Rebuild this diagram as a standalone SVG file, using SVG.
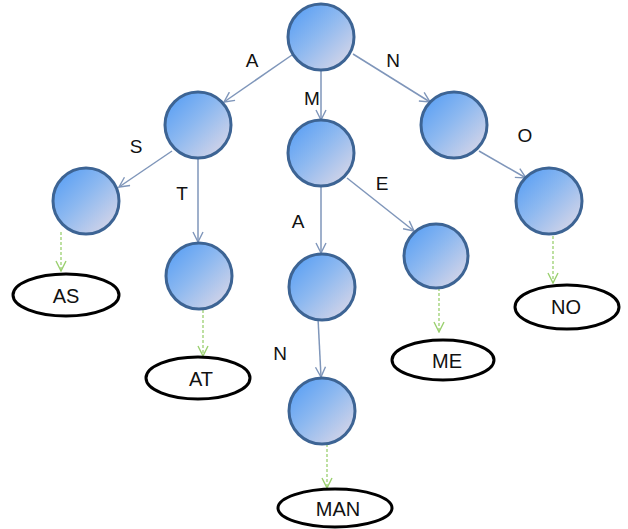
<svg xmlns="http://www.w3.org/2000/svg" width="628" height="529" viewBox="0 0 628 529">
  <defs>
    <linearGradient id="ball" x1="0" y1="0" x2="1" y2="1">
      <stop offset="0" stop-color="#4f9af5"/>
      <stop offset="0.45" stop-color="#8cb8f0"/>
      <stop offset="1" stop-color="#e4dbe6"/>
    </linearGradient>
    <marker id="arr" viewBox="0 0 12 12" refX="11" refY="6" markerWidth="12" markerHeight="12" markerUnits="userSpaceOnUse" orient="auto">
      <path d="M1,1 L11,6 L1,11" fill="none" stroke="#7f96ba" stroke-width="1.4"/>
    </marker>
    <marker id="arrg" viewBox="0 0 12 12" refX="11" refY="6" markerWidth="12" markerHeight="12" markerUnits="userSpaceOnUse" orient="auto">
      <path d="M1,1 L11,6 L1,11" fill="none" stroke="#9bd070" stroke-width="1.4"/>
    </marker>
  </defs>
  <style>
    .node { fill: url(#ball); stroke: #3d6494; stroke-width: 3; }
    .word { fill: #ffffff; stroke: #000000; stroke-width: 3; }
    .edge { stroke: #7f96ba; stroke-width: 1.5; fill: none; marker-end: url(#arr); }
    .leaf { stroke: #9bd070; stroke-width: 1.3; stroke-dasharray: 3 2; fill: none; marker-end: url(#arrg); }
    .lbl { font-family: "Liberation Sans", Arial, sans-serif; font-size: 19px; fill: #111111; text-anchor: middle; }
    .wtxt { font-family: "Liberation Sans", Arial, sans-serif; font-size: 20px; fill: #111111; text-anchor: middle; }
  </style>

  <!-- trie edges with letter labels -->
  <g id="connectors">
    <line class="edge" x1="292" y1="55" x2="224" y2="102"/>
    <line class="edge" x1="321" y1="70" x2="321" y2="120"/>
    <line class="edge" x1="353" y1="54" x2="430" y2="102"/>
    <line class="edge" x1="172" y1="151" x2="119" y2="187"/>
    <line class="edge" x1="198" y1="158" x2="198" y2="242"/>
    <line class="edge" x1="321" y1="187" x2="321" y2="253"/>
    <line class="edge" x1="347" y1="178" x2="414" y2="231"/>
    <line class="edge" x1="318" y1="318" x2="321" y2="377"/>
    <line class="edge" x1="479" y1="151" x2="526" y2="178"/>

    <line class="leaf" x1="61" y1="232" x2="61" y2="271"/>
    <line class="leaf" x1="203" y1="310" x2="203" y2="356"/>
    <line class="leaf" x1="327" y1="444" x2="327" y2="488"/>
    <line class="leaf" x1="439" y1="288" x2="439" y2="332"/>
    <line class="leaf" x1="553" y1="236" x2="553" y2="283"/>

    <text class="lbl" x="252" y="67">A</text>
    <text class="lbl" x="312" y="105">M</text>
    <text class="lbl" x="393" y="67">N</text>
    <text class="lbl" x="136" y="153">S</text>
    <text class="lbl" x="182" y="200">T</text>
    <text class="lbl" x="298" y="228">A</text>
    <text class="lbl" x="382" y="190">E</text>
    <text class="lbl" x="280" y="360">N</text>
    <text class="lbl" x="525" y="142">O</text>
  </g>

  <!-- trie nodes -->
  <g id="root"><circle class="node" cx="321" cy="37" r="33"/></g>
  <g id="n-a"><circle class="node" cx="198" cy="125" r="33"/></g>
  <g id="n-m"><circle class="node" cx="321" cy="153" r="33"/></g>
  <g id="n-n"><circle class="node" cx="454" cy="125" r="33"/></g>
  <g id="n-as"><circle class="node" cx="86" cy="201" r="33"/></g>
  <g id="n-at"><circle class="node" cx="199" cy="276" r="33"/></g>
  <g id="n-ma"><circle class="node" cx="322" cy="287" r="33"/></g>
  <g id="n-me"><circle class="node" cx="436" cy="256" r="32"/></g>
  <g id="n-no"><circle class="node" cx="549" cy="201" r="33"/></g>
  <g id="n-man"><circle class="node" cx="322" cy="411" r="33"/></g>

  <!-- stored words -->
  <g id="w-as"><ellipse class="word" cx="66" cy="295" rx="53" ry="21"/><text class="wtxt" x="66" y="303">AS</text></g>
  <g id="w-at"><ellipse class="word" cx="198" cy="378" rx="52" ry="21"/><text class="wtxt" x="201" y="386">AT</text></g>
  <g id="w-me"><ellipse class="word" cx="443" cy="360" rx="51" ry="20"/><text class="wtxt" x="447" y="368">ME</text></g>
  <g id="w-no"><ellipse class="word" cx="567" cy="307" rx="52" ry="22"/><text class="wtxt" x="566" y="314">NO</text></g>
  <g id="w-man"><ellipse class="word" cx="335" cy="508" rx="57" ry="19"/><text class="wtxt" x="338" y="516">MAN</text></g>
</svg>
